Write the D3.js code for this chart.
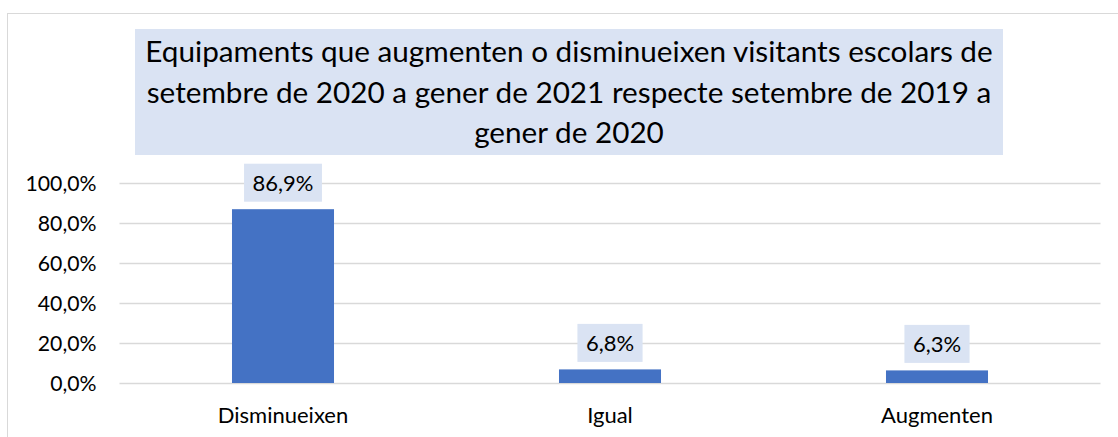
<!DOCTYPE html>
<html>
<head>
<meta charset="utf-8">
<script src="https://cdn.jsdelivr.net/npm/d3@7"></script>
<style>
    body { margin: 0; background: #ffffff; }
    text { font-family: Lato, "Open Sans", sans-serif; fill: #000000; }
</style>
</head>
<body>
<svg id="drawing_region"></svg>
<script>
const categories = ['Disminueixen', 'Igual', 'Augmenten'];
const values = [86.9, 6.8, 6.3];
const y_ticks = [0, 20, 40, 60, 80, 100];
const title_lines = [
    'Equipaments que augmenten o disminueixen visitants escolars de',
    'setembre de 2020 a gener de 2021 respecte setembre de 2019 a',
    'gener de 2020'
];

const locale = d3.formatLocale({decimal: ',', thousands: '.', grouping: [3], currency: ['', '€']});
const pct = locale.format('.1f');

class BarChart {

    constructor( config, data ) {
        this.config = config;
        this.data = data;
        this.init();
    }

    init() {
        let self = this;

        self.svg = d3.select( self.config.parent )
            .attr('width', self.config.width)
            .attr('height', self.config.height);

        // chart frame (runs off the right and bottom edges)
        self.svg.append('rect')
            .attr('x', 7.5)
            .attr('y', 13.5)
            .attr('width', self.config.width + 20)
            .attr('height', self.config.height + 20)
            .attr('fill', 'none')
            .attr('stroke', '#d9d9d9');

        self.xscale = d3.scaleBand()
            .domain( categories )
            .range( [self.config.margin.left, self.config.width - self.config.margin.right] )
            .paddingInner(0.688)
            .paddingOuter(0.344);

        self.yscale = d3.scaleLinear()
            .domain( [0, 100] )
            .range( [self.config.height - self.config.margin.bottom, self.config.margin.top] );

        self.chart = self.svg.append('g');
    }

    render() {
        let self = this;
        const bar_color = '#4472c4';
        const box_color = '#dae3f3';

        // title
        const tbox = self.svg.append('g');
        tbox.append('rect')
            .attr('x', 135)
            .attr('y', 29)
            .attr('width', 868)
            .attr('height', 126)
            .attr('fill', box_color);
        tbox.selectAll('text')
            .data(title_lines)
            .join('text')
            .attr('x', 569)
            .attr('y', (d, i) => 62 + i * 40.5)
            .attr('text-anchor', 'middle')
            .attr('font-size', '29.7px')
            .text(d => d);

        // grid + y labels
        const yaxis = d3.axisLeft( self.yscale )
            .tickValues( y_ticks )
            .tickSize( -(self.config.width - self.config.margin.left - self.config.margin.right) )
            .tickPadding( 23 )
            .tickFormat( d => pct(d) + '%' );

        const ya = self.chart.append('g')
            .attr('transform', `translate(${self.config.margin.left}, 0)`)
            .call( yaxis );
        ya.select('.domain').remove();
        ya.selectAll('.tick line')
            .attr('stroke', '#d9d9d9')
            .attr('stroke-width', 1.3);
        ya.selectAll('.tick text')
            .attr('font-size', '21.2px')
            .attr('font-family', null)
            .attr('dy', '0.36em')
            .attr('fill', '#000');

        // bars
        self.chart.selectAll('.bar')
            .data(self.data)
            .join('rect')
            .attr('class', 'bar')
            .attr('x', d => self.xscale( d.category ))
            .attr('y', d => self.yscale( d.value ))
            .attr('width', self.xscale.bandwidth())
            .attr('height', d => self.yscale(0) - self.yscale( d.value ))
            .attr('fill', bar_color);

        // value labels
        const labels = self.chart.selectAll('.vlabel')
            .data(self.data)
            .join('g')
            .attr('class', 'vlabel')
            .attr('transform', d => `translate(${self.xscale( d.category ) + self.xscale.bandwidth()/2}, ${self.yscale( d.value ) - 7.5})`);
        labels.each(function(d) {
            const g = d3.select(this);
            const rect = g.append('rect').attr('fill', box_color);
            const t = g.append('text')
                .attr('text-anchor', 'middle')
                .attr('y', -11)
                .attr('font-size', '22px')
                .text(pct(d.value) + '%');
            const w = t.node().getComputedTextLength() + 17;
            rect.attr('x', -w/2).attr('y', -38).attr('width', w).attr('height', 38);
        });

        // category labels
        const xaxis = d3.axisBottom( self.xscale )
            .tickSize(0)
            .tickPadding(24);
        const xa = self.chart.append('g')
            .attr('transform', `translate(0, ${self.yscale(0)})`)
            .call( xaxis );
        xa.select('.domain').remove();
        xa.selectAll('.tick text')
            .attr('font-size', '22px')
            .attr('font-family', null)
            .attr('fill', '#000');
    }
}

const config = {
    parent: '#drawing_region',
    width: 1118,
    height: 437,
    margin: {top: 183, right: 17.5, bottom: 54, left: 119.5}
};

const data = categories.map( (c, i) => ({category: c, value: values[i]}) );
const bar_chart = new BarChart( config, data );
bar_chart.render();
</script>
</body>
</html>
